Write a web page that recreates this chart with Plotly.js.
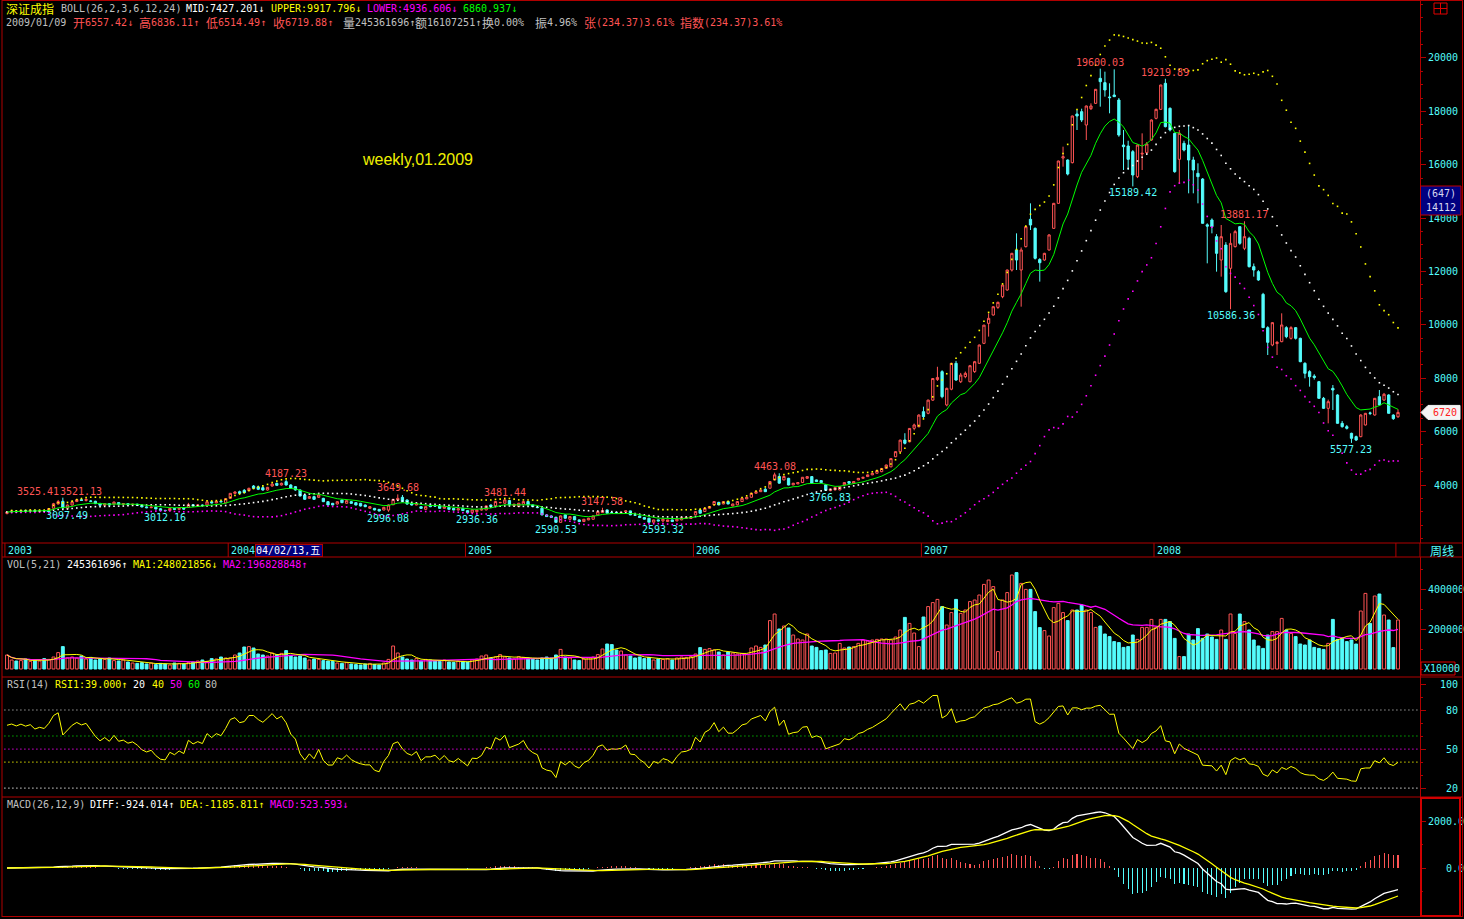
<!DOCTYPE html>
<html><head><meta charset="utf-8">
<script src="https://cdn.plot.ly/plotly-3.0.1.min.js"></script>
<style>html,body{margin:0;padding:0;background:#000;overflow:hidden;}#chart{width:1464px;height:919px;}</style>
</head><body><div id="chart"></div>
<script>
// ---------------- DATA (weekly, 深证成指, 2003-01 .. 2009-01-09) ----------------
const yearLabels   = ['2003','2004','2005','2006','2007','2008','2009'];
const yearStartIdx = [0, 48, 99, 148, 197, 247, 299];

const openPx = [
 2930,2990,3020,3000,3040,3020,3050,3010,3040,3030,
 3130,3290,3390,3130,3250,3380,3450,3420,3400,3390,
 3310,3240,3300,3290,3340,3280,3300,3260,3280,3240,
 3180,3150,3170,3110,3050,3040,3120,3090,3130,3160,
 3260,3220,3250,3250,3370,3330,3390,3330,
 3500,3688,3750,3800,3788,3963,3930,3900,3813,3963,
 4063,4000,4125,4000,3938,3813,3625,3500,3563,3538,
 3500,3376,3313,3288,3438,3313,3376,3338,3313,3251,
 3126,3126,3088,3063,3060,3260,3438,3538,3438,3313,
 3251,3188,3088,3251,3220,3213,3126,3163,3126,3063,3130,
 3040,2967,3000,3060,3067,3250,3217,3340,3317,3417,
 3217,3192,3280,3380,3255,3170,3130,2880,2840,2792,
 2600,2880,2717,2817,2692,2630,2692,2717,2880,2967,
 3067,2970,2967,2960,2992,3030,2880,2840,2780,2755,
 2605,2692,2655,2630,2692,2655,2692,2745,2745,
 2880,3067,3005,3130,3255,3350,3290,3380,3217,3255,
 3380,3480,3540,3690,3750,3840,3880,4190,4320,4190,
 4250,4005,4042,4092,4250,4315,4190,4165,4005,3790,
 3816,3816,4005,4130,4067,4190,4250,4315,4380,4440,
 4500,4625,4680,5060,5250,5686,5620,6124,6180,
 6748,6686,7180,7950,8247,7000,7590,8560,7870,8060,
 7870,8250,8560,9308,10058,10370,10657,11057,11307,12056,
 12806,12056,12931,13955,13617,12450,12431,12806,13617,14554,
 16250,16178,16078,17902,17989,17489,18101,18301,19238,19076,
 18540,18613,18426,16740,16702,16490,15553,16400,16453,16927,
 17739,18076,19051,18114,17177,16203,16802,16740,16178,15678,
 15466,13750,13930,13305,12431,12993,12119,12931,13680,12868,
 13243,12181,11994,11144,9896,9246,9300,9371,9896,9496,
 9896,9496,8559,8247,8080,7872,7248,6873,7622,7373,
 6311,6186,5936,5811,5811,6249,6700,6623,7310,7185,
 7373,6620,6557.42];

const highPx = [
 3010,3050,3060,3060,3070,3080,3070,3060,3070,3140,
 3330,3440,3525.41,3270,3390,3480,3521.13,3480,3440,3410,
 3330,3320,3320,3380,3360,3320,3320,3300,3300,3260,
 3200,3190,3180,3130,3070,3140,3140,3150,3150,3330,
 3280,3270,3270,3380,3390,3400,3410,3500,
 3700,3760,3790,3850,3900,4000,3980,3950,3930,4060,
 4090,4090,4187.23,4030,3960,3830,3650,3590,3600,3650,
 3520,3400,3330,3400,3460,3430,3400,3350,3330,3270,
 3200,3140,3100,3180,3270,3480,3649.68,3625,3460,3330,
 3330,3200,3200,3270,3250,3230,3200,3180,3140,3140,3150,
 3060,3080,3080,3120,3230,3270,3400,3370,3481.44,3440,
 3300,3330,3400,3400,3270,3190,3150,2910,2860,2810,
 2860,2900,2830,2830,2710,2730,2770,2860,3020,3147.58,
 3080,2990,2990,2990,3050,3040,2900,2860,2800,2770,
 2700,2710,2730,2700,2700,2730,2790,2800,2830,
 3020,3080,3140,3200,3390,3370,3390,3400,3300,3390,
 3520,3550,3700,3760,3830,3900,4140,4463.08,4440,4330,
 4270,4080,4100,4300,4330,4330,4200,4180,4020,3860,
 3910,3950,4100,4140,4140,4260,4300,4390,4450,4550,
 4640,4760,5000,5260,5700,5940,6130,6300,6650,
 6935,7200,8000,8430,8300,7650,8580,8650,8200,8250,
 8500,8650,9260,10000,10430,10700,10870,11500,12070,12700,
 13430,12900,13700,14554,13650,12500,12700,13400,14570,16150,
 16677,16200,17840,18051,18100,18220,18300,18840,19600.03,19488,
 19051,19575,18500,17302,16900,16550,16760,17177,16850,17700,
 18100,19000,19219.89,18150,17200,17302,16900,17489,16300,16053,
 15500,13805,13990,13400,13742,13100,13430,13550,13700,13881.17,
 13300,12300,12050,11200,9950,10100,9400,10433,9950,9950,
 9920,9520,8600,8300,8150,7900,7300,7200,7747,7400,
 6400,6250,5960,5850,6650,6700,6750,7260,7560,7450,
 7400,6650,6836.11];

const lowPx = [
 2900,2970,2980,2990,3000,3010,2990,2990,3000,3020,
 3120,3270,3110,3097.49,3230,3360,3400,3380,3360,3290,
 3220,3220,3230,3270,3260,3250,3240,3240,3220,3160,
 3130,3130,3090,3040,3012.16,3030,3070,3070,3080,3150,
 3200,3200,3210,3240,3310,3320,3350,3320,
 3480,3650,3660,3690,3760,3850,3810,3790,3790,3940,
 3960,3980,3980,3860,3790,3570,3440,3480,3440,3520,
 3360,3230,3240,3270,3320,3300,3300,3240,3200,3170,
 3110,3050,3010,3050,2996.08,3250,3420,3360,3260,3230,
 3240,3110,3070,3170,3180,3110,3110,3080,3050,3040,3030,
 2950,2950,2936.36,3040,3050,3170,3200,3310,3300,3240,
 3200,3180,3270,3240,3180,3130,2860,2800,2770,2590.53,
 2595,2740,2700,2680,2610,2620,2680,2700,2870,2950,
 2930,2940,2940,2950,2980,2870,2850,2770,2710,2600,
 2595,2640,2593.32,2620,2620,2640,2680,2740,2740,
 2870,2930,2990,3120,3240,3240,3280,3280,3200,3240,
 3370,3470,3530,3680,3740,3740,3870,4180,4050,4180,
 3990,3990,4030,4080,4240,4050,4120,4080,3780,3766.83,
 3800,3800,3990,4050,4060,4180,4240,4300,4370,4430,
 4480,4610,4670,5040,5240,5520,5600,6050,6170,
 6500,6650,7150,7900,7250,6950,7550,7900,7820,8000,
 7850,8200,8540,9280,9560,10350,10600,11000,11280,12000,
 12056,10682,12900,13555,12450,11620,12400,12780,13600,14540,
 15928,15600,16050,17302,17600,16927,18050,18280,18176,18551,
 17927,18551,17050,15803,15803,15189.42,15500,15803,16400,16900,
 17700,18050,17400,17250,15700,15300,16500,14929,14929,14554,
 13800,12306,13430,11994,11807,11200,10586.36,12900,13000,12800,
 12150,11807,11650,9890,8870,9200,8870,9350,9500,9450,
 9450,8600,7997,7685,7950,7230,6850,6311,6811,6300,
 6150,6080,5577.23,5650,5790,6230,6620,6600,6980,7150,
 6680,6440,6514.49];

const closePx = [
 2990,3020,3000,3040,3020,3050,3010,3040,3030,3120,
 3300,3380,3140,3250,3370,3450,3420,3460,3390,3300,
 3240,3300,3250,3360,3280,3300,3260,3280,3240,3180,
 3150,3170,3100,3050,3040,3120,3090,3130,3100,3260,
 3220,3250,3230,3370,3330,3390,3370,3490,
 3688,3737,3688,3713,3875,3875,3838,3813,3913,4038,
 3988,4063,4000,3875,3813,3588,3463,3563,3463,3625,
 3376,3251,3251,3376,3338,3413,3313,3251,3213,3188,
 3188,3063,3026,3163,3251,3463,3500,3376,3288,3251,
 3313,3126,3188,3188,3213,3126,3188,3088,3063,3110,3040,
 2967,3067,3060,3100,3217,3190,3380,3345,3442,3255,
 3280,3317,3380,3255,3192,3155,2880,2817,2790,2600,
 2842,2755,2817,2692,2630,2717,2755,2842,3005,3042,
 2942,2967,2960,2975,3030,2880,2870,2780,2720,2605,
 2692,2655,2717,2692,2630,2717,2780,2790,2817,
 3005,2942,3130,3192,3380,3255,3380,3290,3290,3380,
 3505,3540,3690,3750,3815,3750,4130,4380,4070,4320,
 4000,4067,4092,4290,4315,4067,4130,4090,3800,3850,
 3904,3941,4092,4067,4130,4250,4290,4380,4440,4540,
 4620,4750,4990,5250,5680,5562,6120,6249,6620,
 6561,7180,7990,8030,7310,7620,8560,7934,8120,8184,
 8470,8620,9246,9990,10245,10680,10845,11494,12056,12681,
 12431,12806,13680,13742,12493,12330,12681,13370,14554,16140,
 16303,15653,17827,17827,17677,18201,18201,18826,19113,18801,
 18514,18551,17115,16677,16203,15616,16740,16428,16777,17677,
 18076,18988,17427,17302,15741,17177,16552,16178,15803,15553,
 13805,13700,13680,12681,13305,11244,13055,13493,13055,13305,
 12181,12056,11682,9896,9346,10083,9346,9996,9558,9896,
 9496,8621,8184,8059,8030,7248,6873,7123,7560,6311,
 6186,6124,5749,5686,6623,6686,6686,7248,6998,7400,
 6686,6485.51,6719.88];

// weekly volume, in thousands of the panel's axis units
const volumeK = [
 70,45,40,42,50,38,45,40,52,48, 60,82,112,55,60,55,65,50,58,45,
 52,48,55,42,40,45,35,30,28,32, 25,30,22,28,25,20,30,28,25,32,
 35,40,45,38,52,50,60,55,
 55,70,80,110,112,105,75,70,65,80, 72,78,92,68,60,65,55,45,50,48,
 42,40,38,30,28,32,25,22,20,25, 28,22,20,30,48,115,80,60,50,45,
 52,40,48,45,40,38,45,35,33,40,
 38,35,45,50,65,70,55,60,72,60, 55,50,62,58,55,50,45,55,60,55,
 70,98,60,55,45,42,50,55,60,72, 100,125,122,95,90,70,65,55,60,52,
 58,45,50,48,52,45,55,60,58,62,
 75,107,98,102,95,85,70,85,80,75, 78,72,105,115,108,120,242,275,200,215,
 205,170,150,145,175,115,108,92,95,78, 80,128,105,110,112,128,145,140,145,148,
 150,150,145,160,195,258,228,180,112,260, 312,332,348,312,220,282,348,278,295,337,
 345,370,423,445,412,
 87,345,382,470,482,428,398,398,287,207, 192,165,307,328,282,242,295,295,320,295,
 282,208,215,175,162,137,132,108,112,170, 148,208,208,248,
 208,248,248,237,153,62,62,175,145,202, 153,175,160,148,195,148,275,178,275,237,
 195,145,115,103,170,187,187,253,195,178, 162,125,120,145,108,103,98,128,248,148,
 153,137,145,125,
 290,378,228,365,375,270,245,107,245];

// marked extremes (index, H = high label / L = low label)
const peakIdx  = [12,16,13,34,60,82,84,101,107,118,128,141,165,177,235,242,249,263,266,289];
const peakType = ['H','H','L','L','H','L','H','L','H','L','H','L','H','L','H','L','H','L','H','L'];

// axis tick labels
const priceTicks = [4000,6000,8000,10000,12000,14000,16000,18000,20000];
const volTicks = [200,400], volTickText = ['200000','400000'];
const rsiTicks = [20,50,80,100];
const rsiLevels = [20,40,50,60,80];
const macdTicks = [0,2000], macdTickText = ['0.0','2000.0'];

// ---------------- STYLE / GEOMETRY ----------------
const RED='#ff5454', CYAN='#54fcfc', FRAME='#b00000', YEL='#ffff00', MAG='#ff00ff', GRN='#00ff00', GRAY='#c0c0c0', WHITE='#ffffff';
const MONO="DejaVu Sans Mono, Noto Sans CJK SC, monospace";
const CJK="Noto Sans CJK SC, sans-serif";
const W=1464, H=919, ML=3, MR=44, MT=0, MB=2, PW=W-ML-MR, PH=H-MT-MB;
const PX = x => (x-ML)/PW;
const PY = y => (PH-(y-MT))/PH;
const N = closePx.length;
const idx = Array.from({length:N},(_,i)=>i);
const pad = (s,n) => '\u00a0'.repeat(Math.max(0,n-s.length))+s;

// ---------------- INDICATORS (from the data) ----------------
function sma(a,n){const o=[];let s=0;for(let i=0;i<a.length;i++){s+=a[i];if(i>=n)s-=a[i-n];o.push(s/Math.min(i+1,n));}return o;}
function stdv(a,n,m){return a.map((_,i)=>{const s=Math.max(0,i-n+1),k=i-s+1;if(k<2)return 0;let t=0;for(let j=s;j<=i;j++)t+=(a[j]-m[i])**2;return Math.sqrt(t/(k-1));});}
function ema(a,n){const o=[],al=2/(n+1);for(let i=0;i<a.length;i++)o.push(i?al*a[i]+(1-al)*o[i-1]:a[i]);return o;}
function rsi(c,n){
  let su=0,sa=0;for(let i=1;i<=n;i++){const d=c[i]-c[i-1];su+=Math.max(d,0);sa+=Math.abs(d);}
  let up=su/n,ab=sa/n;const o=[100*up/ab];
  for(let i=1;i<c.length;i++){const d=c[i]-c[i-1];up=(Math.max(d,0)+(n-1)*up)/n;ab=(Math.abs(d)+(n-1)*ab)/n;o.push(ab?100*up/ab:50);}
  return o;}

const mid = sma(closePx,26), sd = stdv(closePx,26,mid);
const upper = mid.map((m,i)=>m+2*sd[i]), lower = mid.map((m,i)=>m-2*sd[i]);
const ma3=sma(closePx,3), ma6=sma(closePx,6), ma12=sma(closePx,12), ma24=sma(closePx,24);
const bbi = ma3.map((v,i)=>(v+ma6[i]+ma12[i]+ma24[i])/4);
const volMA5 = sma(volumeK,5), volMA21 = sma(volumeK,21);
const rsi14 = rsi(closePx,14);
const e12=ema(closePx,12), e26=ema(closePx,26);
const diff = e12.map((v,i)=>v-e26[i]);
const dea = ema(diff,9);
const macd = diff.map((v,i)=>2*(v-dea[i]));
const isUp = closePx.map((c,i)=>c>=openPx[i]);

// ---------------- TRACES ----------------
const dot = (y,color)=>({type:'scatter',mode:'markers',x:idx,y:y,xaxis:'x',yaxis:'y',
  marker:{symbol:'square',size:1.6,color:color,line:{width:0}},hoverinfo:'skip'});
const traces = [
  dot(upper,YEL), dot(lower,MAG), dot(mid,WHITE),
  {type:'scatter',mode:'lines',x:idx,y:bbi,xaxis:'x',yaxis:'y',line:{color:GRN,width:1},hoverinfo:'skip'},
  {type:'candlestick',x:idx,open:openPx,high:highPx,low:lowPx,close:closePx,xaxis:'x',yaxis:'y',
   increasing:{line:{color:RED,width:1},fillcolor:'#000000'},
   decreasing:{line:{color:CYAN,width:1},fillcolor:CYAN},whiskerwidth:0,hoverinfo:'skip'},
  {type:'bar',x:idx,y:volumeK,xaxis:'x',yaxis:'y2',width:0.62,
   marker:{color:isUp.map(u=>u?'#000000':CYAN),line:{color:isUp.map(u=>u?RED:CYAN),width:1}},hoverinfo:'skip'},
  {type:'scatter',mode:'lines',x:idx,y:volMA21,xaxis:'x',yaxis:'y2',line:{color:MAG,width:1.3},hoverinfo:'skip'},
  {type:'scatter',mode:'lines',x:idx,y:volMA5,xaxis:'x',yaxis:'y2',line:{color:YEL,width:1},hoverinfo:'skip'},
  {type:'scatter',mode:'lines',x:idx,y:rsi14,xaxis:'x',yaxis:'y3',line:{color:YEL,width:1},hoverinfo:'skip'},
  {type:'bar',x:idx,y:macd,xaxis:'x',yaxis:'y4',width:0.22,
   marker:{color:macd.map(v=>v>=0?RED:CYAN),line:{width:0}},hoverinfo:'skip'},
  {type:'scatter',mode:'lines',x:idx,y:diff,xaxis:'x',yaxis:'y4',line:{color:WHITE,width:1.3},hoverinfo:'skip'},
  {type:'scatter',mode:'lines',x:idx,y:dea,xaxis:'x',yaxis:'y4',line:{color:YEL,width:1.3},hoverinfo:'skip'}
];

// ---------------- AXES ----------------
const yBase = {anchor:'x',side:'right',showgrid:false,zeroline:false,showline:true,linecolor:FRAME,linewidth:1,
  ticks:'outside',ticklen:5,tickcolor:FRAME,tickwidth:1,automargin:false,fixedrange:true,
  tickfont:{family:MONO,size:10,color:CYAN},tickmode:'array'};
const layout = {
  width:W,height:H,margin:{l:ML,r:MR,t:MT,b:MB,pad:0},
  paper_bgcolor:'#000',plot_bgcolor:'#000',showlegend:false,hovermode:false,bargap:0,
  xaxis:{range:[-0.86,303.73],showticklabels:false,ticks:'',showgrid:false,zeroline:false,showline:false,
         rangeslider:{visible:false},fixedrange:true,anchor:'y'},
  yaxis:Object.assign({},yBase,{domain:[PY(543),1],range:[1827,22173],
    tickvals:priceTicks,ticktext:priceTicks.map(v=>pad(String(v),5)),
    minor:{ticks:'outside',ticklen:2,tickcolor:FRAME,tickmode:'linear',tick0:0,dtick:500,showgrid:false}}),
  yaxis2:Object.assign({},yBase,{domain:[PY(677),PY(557)],range:[-40,560],
    tickvals:volTicks,ticktext:volTickText,
    minor:{ticks:'outside',ticklen:2,tickcolor:FRAME,tickmode:'linear',tick0:0,dtick:100,showgrid:false}}),
  yaxis3:Object.assign({},yBase,{domain:[PY(797),PY(677)],range:[13.1,105.4],
    tickvals:rsiTicks,ticktext:rsiTicks.map(v=>pad(String(v),5)),
    minor:{ticks:'outside',ticklen:2,tickcolor:FRAME,tickmode:'linear',tick0:0,dtick:10,showgrid:false}}),
  yaxis4:Object.assign({},yBase,{domain:[0,PY(797)],range:[-2085,3021],
    tickvals:macdTicks,ticktext:macdTickText.map(s=>pad(s,6)),
    minor:{ticks:'outside',ticklen:2,tickcolor:FRAME,tickmode:'linear',tick0:0,dtick:1000,showgrid:false}}),
  shapes:[],annotations:[]
};
const S=layout.shapes, A=layout.annotations;

// ---------------- FRAME ----------------
const hline=(y,x0,x1,c,w)=>S.push({type:'line',xref:'paper',yref:'paper',x0:PX(x0),x1:PX(x1),y0:PY(y),y1:PY(y),line:{color:c||FRAME,width:w||1}});
const vline=(x,y0,y1,c,w)=>S.push({type:'line',xref:'paper',yref:'paper',x0:PX(x),x1:PX(x),y0:PY(y0),y1:PY(y1),line:{color:c||FRAME,width:w||1}});
[543,557,677,797,916.5].forEach(y=>hline(y,2,1463));
hline(0.5,2,1463);
vline(2,0,917); vline(1462.5,0,917); vline(1420,543,557);

// date strip: year dividers + labels
yearStartIdx.forEach((i,k)=>{
  S.push({type:'line',xref:'x',yref:'paper',x0:i-0.45,x1:i-0.45,y0:PY(557),y1:PY(543),line:{color:FRAME,width:1}});
  if(i<290) A.push({xref:'x',yref:'paper',x:i-0.45,y:PY(550.5),xanchor:'left',yanchor:'middle',xshift:1,showarrow:false,
    text:yearLabels[k],font:{family:MONO,size:10,color:CYAN}});
});
// cursor date box
A.push({xref:'paper',yref:'paper',x:PX(255),y:PY(550),xanchor:'left',yanchor:'middle',showarrow:false,
  width:66,height:11,align:'left',bgcolor:'#000080',bordercolor:FRAME,borderwidth:1,borderpad:0,
  text:'04/02/13,五',font:{family:MONO,size:10,color:WHITE}});
A.push({xref:'paper',yref:'paper',x:PX(1428),y:PY(550),xanchor:'left',yanchor:'middle',showarrow:false,
  text:'周线',font:{family:CJK,size:12,color:CYAN}});

// RSI reference levels
const lvlColor={20:WHITE,40:YEL,50:MAG,60:GRN,80:'#e0e0e0'};
rsiLevels.forEach(v=>S.push({type:'line',xref:'paper',yref:'y3',x0:0.001,x1:0.999,y0:v,y1:v,
  line:{color:lvlColor[v],width:1.2,dash:'1px,3px'}}));

// ---------------- RIGHT-SIDE ITEMS ----------------
S.push({type:'rect',xref:'paper',yref:'paper',x0:PX(1434),x1:PX(1447),y0:PY(14),y1:PY(3),line:{color:'#e00000',width:1}});
hline(8.5,1434,1447,'#e00000'); vline(1440.5,3,14,'#e00000');
S.push({type:'rect',xref:'paper',yref:'paper',x0:PX(1420.5),x1:PX(1461),y0:PY(215),y1:PY(186),fillcolor:'#000080',line:{color:'#c00000',width:1}});
A.push({xref:'paper',yref:'paper',x:PX(1441),y:PY(193.5),xanchor:'center',yanchor:'middle',showarrow:false,text:'(647)',font:{family:MONO,size:10,color:'#d8d8f0'}});
A.push({xref:'paper',yref:'paper',x:PX(1441),y:PY(208),xanchor:'center',yanchor:'middle',showarrow:false,text:'14112',font:{family:MONO,size:10,color:'#d8d8f0'}});
const lastC = closePx[N-1], dPx = (22173-1827)/543;
S.push({type:'path',xref:'paper',yref:'y',fillcolor:'#f4f4f4',line:{color:'#f4f4f4',width:1},
  path:`M ${PX(1421)},${lastC} L ${PX(1428)},${lastC+7*dPx} L ${PX(1460)},${lastC+7*dPx} L ${PX(1460)},${lastC-7*dPx} L ${PX(1428)},${lastC-7*dPx} Z`});
A.push({xref:'paper',yref:'y',x:PX(1459),y:lastC,xanchor:'right',yanchor:'middle',showarrow:false,
  text:String(Math.round(lastC)),font:{family:MONO,size:10,color:'#ff2020'}});
S.push({type:'rect',xref:'paper',yref:'paper',x0:PX(1421),x1:PX(1455),y0:PY(675),y1:PY(662),line:{color:'#e00000',width:1}});
A.push({xref:'paper',yref:'paper',x:PX(1422),y:PY(668.5),xanchor:'left',yanchor:'middle',showarrow:false,text:'X10000',font:{family:MONO,size:10,color:CYAN}});
S.push({type:'rect',xref:'paper',yref:'paper',x0:PX(1421),x1:PX(1460),y0:PY(916),y1:PY(798),line:{color:'#d00000',width:2}});

// ---------------- TEXT ----------------
const seg = (x,y,t,c,cjk)=>A.push({xref:'paper',yref:'paper',x:PX(x),y:PY(y),xanchor:'left',yanchor:'middle',showarrow:false,
  text:t,font:{family:cjk?CJK:MONO,size:cjk?12:10,color:c}});
seg(4,9,'深证成指',YEL,1); seg(59,9,'BOLL(26,2,3,6,12,24)',GRAY); seg(184,9,'MID:7427.201↓',WHITE);
seg(269,9,'UPPER:9917.796↓',YEL); seg(365,9,'LOWER:4936.606↓',MAG); seg(461,9,'6860.937↓',GRN);
seg(4,22,'2009/01/09',GRAY);
seg(71,22,'开',RED,1); seg(83,22,'6557.42↓',RED);
seg(137,22,'高',RED,1); seg(149,22,'6836.11↑',RED);
seg(204,22,'低',RED,1); seg(216,22,'6514.49↑',RED);
seg(271,22,'收',RED,1); seg(283,22,'6719.88↑',RED);
seg(341,22,'量',GRAY,1); seg(353,22,'245361696↑',GRAY);
seg(413,22,'额',GRAY,1); seg(425,22,'16107251↑',GRAY);
seg(480,22,'换',GRAY,1); seg(492,22,'0.00%',GRAY);
seg(533,22,'振',GRAY,1); seg(545,22,'4.96%',GRAY);
seg(582,22,'张',RED,1); seg(594,22,'(234.37)3.61%',RED);
seg(678,22,'指数',RED,1); seg(702,22,'(234.37)3.61%',RED);
seg(5,564,'VOL(5,21)',GRAY); seg(65,564,'245361696↑',WHITE); seg(131,564,'MA1:248021856↓',YEL); seg(221,564,'MA2:196828848↑',MAG);
seg(5,684,'RSI(14)',GRAY); seg(53,684,'RSI1:39.000↑',YEL); seg(131,684,'20',WHITE); seg(150,684,'40',YEL);
seg(168,684,'50',MAG); seg(186,684,'60',GRN); seg(203,684,'80',GRAY);
seg(5,804,'MACD(26,12,9)',GRAY); seg(88,804,'DIFF:-924.014↑',WHITE); seg(178,804,'DEA:-1185.811↑',YEL); seg(268,804,'MACD:523.593↓',MAG);
A.push({xref:'paper',yref:'paper',x:PX(360),y:PY(160),xanchor:'left',yanchor:'middle',showarrow:false,
  text:'weekly,01.2009',font:{family:'Liberation Sans, Arial, sans-serif',size:16,color:'#f0f000'}});
// extreme labels (first 2003 high label nudged left so it does not sit on the neighbouring one)
peakIdx.forEach((i,k)=>{
  const hi = peakType[k]==='H', v = hi?highPx[i]:lowPx[i];
  A.push({xref:'x',yref:'y',x:i,y:v,xanchor:'center',yanchor:hi?'bottom':'top',showarrow:false,borderpad:0,
    xshift:(k===0)?-25:0,
    text:v.toFixed(2),font:{family:MONO,size:10,color:hi?RED:CYAN}});
});

Plotly.newPlot('chart',traces,layout,{staticPlot:true,displayModeBar:false});
</script></body></html>
